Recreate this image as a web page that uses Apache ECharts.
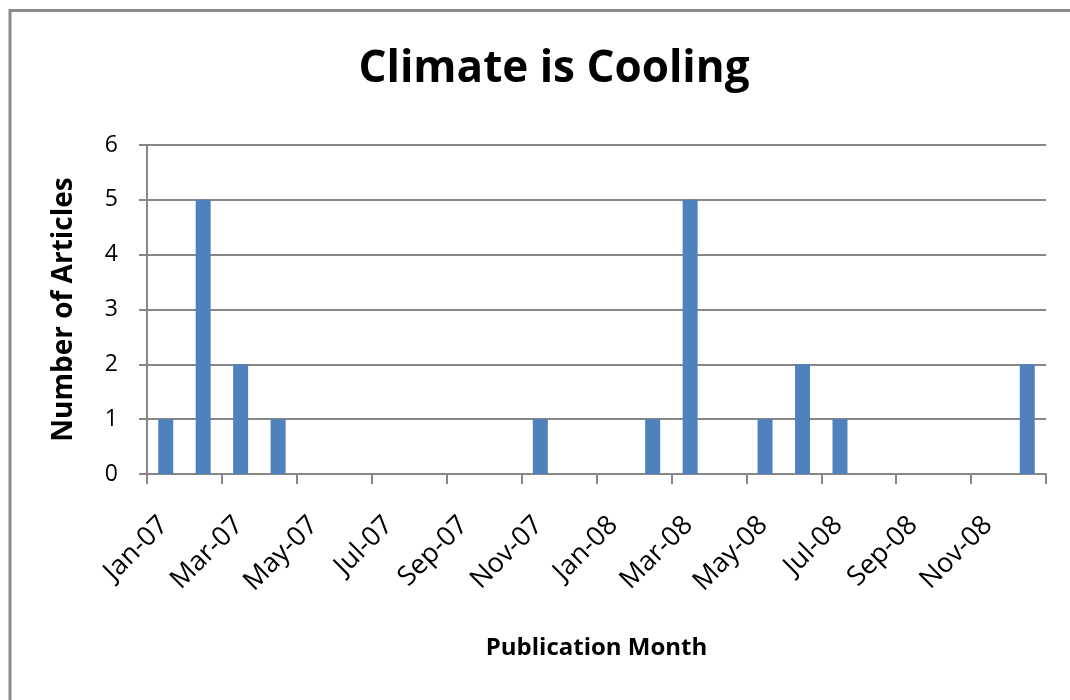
<!DOCTYPE html>
<html>
<head>
<meta charset="utf-8">
<title>Climate is Cooling</title>
<script src="https://cdn.jsdelivr.net/npm/echarts@6/dist/echarts.min.js"></script>
<style>
  html, body { margin: 0; padding: 0; background: #ffffff; }
  #chart { width: 1070px; height: 700px; }
</style>
</head>
<body>
<div id="chart"></div>
<script>
// Publication months, Jan 2007 – Dec 2008
const months = [
  'Jan-07', 'Feb-07', 'Mar-07', 'Apr-07', 'May-07', 'Jun-07',
  'Jul-07', 'Aug-07', 'Sep-07', 'Oct-07', 'Nov-07', 'Dec-07',
  'Jan-08', 'Feb-08', 'Mar-08', 'Apr-08', 'May-08', 'Jun-08',
  'Jul-08', 'Aug-08', 'Sep-08', 'Oct-08', 'Nov-08', 'Dec-08'
];
// Number of articles published in each month
const articles = [
  1, 5, 2, 1, 0, 0,
  0, 0, 0, 0, 1, 0,
  0, 1, 5, 0, 1, 2,
  1, 0, 0, 0, 0, 2
];
// Y axis ticks
const yTicks = [0, 1, 2, 3, 4, 5, 6];

const titleText = 'Climate is Cooling';
const yName = 'Number of Articles';
const xName = 'Publication Month';

const FONT = '"Open Sans", "Noto Sans", sans-serif';
const GRID_COLOR = '#878787';
const BAR_COLOR = '#4F81BD';

// Month i occupies [i, i+1] on the value axis; bars sit in the middle of their month
const barData = articles.map((v, i) => [i + 0.5, v]);

const chart = echarts.init(document.getElementById('chart'), null, { renderer: 'canvas' });

const gridBox = { left: 147, top: 145, right: 24, bottom: 226 };
// Labels are offset to the right of their tick, as in a spreadsheet date axis
const labelShift = 17;

chart.setOption({
  animation: false,
  backgroundColor: '#ffffff',
  title: {
    text: titleText,
    left: 549,
    top: 42,
    textAlign: 'center',
    textStyle: { fontFamily: FONT, fontWeight: 'bold', fontSize: 44, color: '#000' }
  },
  graphic: [{
    type: 'rect',
    shape: { x: 10, y: 10.5, width: 1200, height: 900 },
    style: { fill: 'none', stroke: '#8a8a8a', lineWidth: 3 },
    silent: true,
    z: -1
  }],
  grid: [
    Object.assign({ containLabel: false }, gridBox),
    { left: gridBox.left + labelShift, right: gridBox.right - labelShift, top: gridBox.top, bottom: gridBox.bottom }
  ],
  xAxis: [{
    gridIndex: 0,
    type: 'value',
    min: 0,
    max: months.length,
    interval: 2,
    name: xName,
    nameLocation: 'middle',
    nameGap: 162,
    nameTextStyle: { fontFamily: FONT, fontWeight: 'bold', fontSize: 24, color: '#000' },
    axisLine: { show: true, onZero: false, lineStyle: { color: GRID_COLOR, width: 2 } },
    axisTick: { show: true, inside: false, length: 10, lineStyle: { color: GRID_COLOR, width: 2 } },
    axisLabel: { show: false },
    splitLine: { show: false }
  }, {
    gridIndex: 1,
    type: 'value',
    min: 0,
    max: months.length,
    interval: 2,
    axisLine: { show: false },
    axisTick: { show: false },
    splitLine: { show: false },
    axisLabel: {
      show: true,
      rotate: 45,
      margin: 47,
      fontFamily: FONT,
      fontSize: 27,
      color: '#000',
      showMinLabel: true,
      showMaxLabel: false,
      hideOverlap: false,
      formatter: v => (Number.isInteger(v) && v < months.length) ? months[v] : ''
    }
  }],
  yAxis: [{
    gridIndex: 0,
    type: 'value',
    min: yTicks[0],
    max: yTicks[yTicks.length - 1],
    interval: 1,
    name: yName,
    nameLocation: 'middle',
    nameGap: 69,
    nameRotate: 90,
    nameTextStyle: { fontFamily: FONT, fontWeight: 'bold', fontSize: 28, color: '#000' },
    axisLine: { show: true, lineStyle: { color: GRID_COLOR, width: 2 } },
    axisTick: { show: true, inside: false, length: 8, lineStyle: { color: GRID_COLOR, width: 2 } },
    splitLine: { show: true, lineStyle: { color: GRID_COLOR, width: 2 } },
    axisLabel: { margin: 29, fontFamily: FONT, fontSize: 23, color: '#000' }
  }, {
    gridIndex: 1,
    type: 'value',
    min: 0,
    max: 6,
    show: false
  }],
  series: [{
    type: 'bar',
    xAxisIndex: 0,
    yAxisIndex: 0,
    data: barData,
    barWidth: 15,
    itemStyle: { color: BAR_COLOR },
    z: 3
  }]
});
</script>
</body>
</html>
